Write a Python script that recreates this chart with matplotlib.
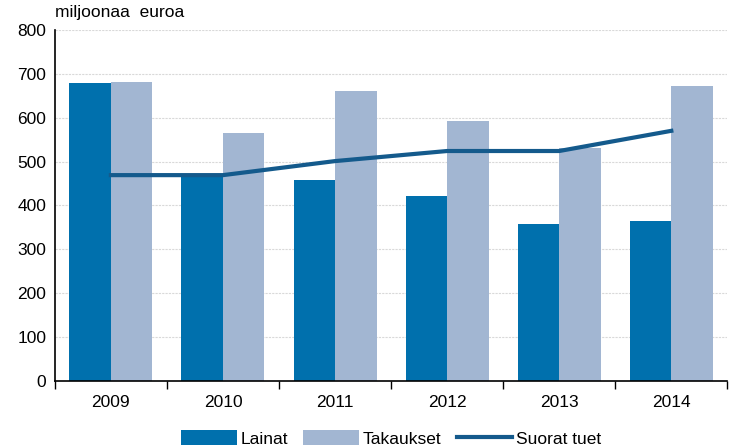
import numpy as np
import matplotlib.pyplot as plt
from matplotlib.ticker import FixedLocator

plt.rcParams['font.family'] = ['Liberation Sans', 'DejaVu Sans']

vuodet = ['2009', '2010', '2011', '2012', '2013', '2014']
lainat = [678, 470, 458, 421, 358, 364]
takaukset = [682, 564, 660, 592, 530, 672]
suorat_tuet = [469, 469, 501, 524, 524, 570]

c_lainat = '#0070AD'
c_takaukset = '#A2B6D2'
c_line = '#145A8C'

fig = plt.figure(figsize=(7.31, 4.47), dpi=100)
ax = fig.add_axes([0.075, 0.148, 0.92, 0.785])

x = np.arange(len(vuodet))
w = 0.37
b1 = ax.bar(x - w / 2, lainat, w, color=c_lainat, label='Lainat', zorder=2)
b2 = ax.bar(x + w / 2, takaukset, w, color=c_takaukset, label='Takaukset', zorder=2)
l1, = ax.plot(x, suorat_tuet, color=c_line, lw=3, label='Suorat tuet', zorder=3)

ax.set_xlim(-0.5, len(vuodet) - 0.5)
ax.set_ylim(0, 800)
ax.set_yticks(range(0, 801, 100))
ax.set_xticks(x)
ax.set_xticklabels(vuodet)
ax.xaxis.set_minor_locator(FixedLocator(np.arange(-0.5, len(vuodet), 1)))
ax.tick_params(axis='x', which='major', length=0, pad=10, labelsize=12.5)
ax.tick_params(axis='x', which='minor', length=6, width=1, direction='out')
ax.tick_params(axis='y', length=0, pad=6, labelsize=12.5)

ax.grid(axis='y', color='#d9d9d9', linestyle=(0, (2, 1)), lw=0.8, zorder=0)
for s in ['top', 'right']:
    ax.spines[s].set_visible(False)
ax.spines['left'].set_linewidth(1.2)
ax.spines['bottom'].set_linewidth(1.2)

fig.text(0.075, 0.972, 'miljoonaa  euroa', fontsize=12.5, va='center', ha='left')

ax.legend([b1, b2, l1], ['Lainat', 'Takaukset', 'Suorat tuet'],
          loc='lower center', bbox_to_anchor=(0.5, -0.232), ncol=3, frameon=False,
          fontsize=12.5, handlelength=3.2, handleheight=0.9, handletextpad=0.2,
          columnspacing=0.9)

fig.savefig('out.png', dpi=100)
